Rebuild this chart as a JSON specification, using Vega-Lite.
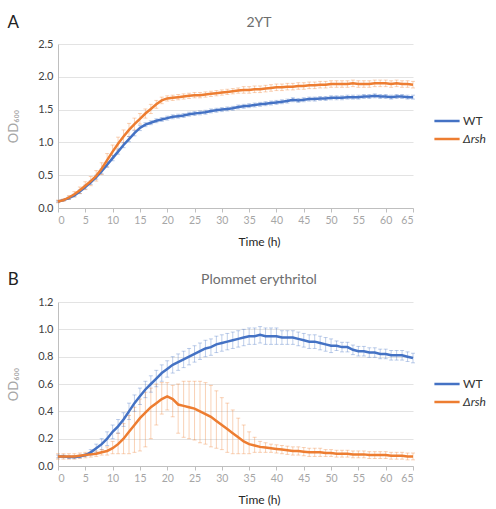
{
  "$schema": "https://vega.github.io/schema/vega-lite/v6.json",
  "background": "white",
  "padding": {"left": 7, "top": 14, "right": 4, "bottom": 4},
  "config": {
    "font": "Lato",
    "view": {"stroke": null},
    "concat": {"spacing": 23},
    "axisX": {
      "grid": false, "domainColor": "#bfbfbf", "tickColor": "#bfbfbf", "tickSize": 4, "labelOverlap": false,
      "labelColor": "#a6a6a6", "labelFontSize": 10.5, "labelPadding": 3,
      "titleColor": "#262626", "titleFontSize": 12, "titleFontWeight": "normal", "titlePadding": 11, "titleX": 201
    },
    "axisY": {
      "grid": true, "gridColor": "#e3e3e3", "ticks": false, "domainColor": "#bfbfbf", "labelOverlap": false,
      "labelColor": "#404040", "labelFontSize": 11, "labelPadding": 5,
      "titleColor": "#a6a6a6", "titleFontSize": 13, "titleFontWeight": "normal", "titlePadding": 17
    },
    "legend": {
      "orient": "none", "legendX": 377, "title": null,
      "symbolType": "M-1.2,0H1.2", "symbolSize": 441, "symbolStrokeWidth": 2.5, "symbolOpacity": 1,
      "labelFontSize": 12, "labelColor": "#333333", "rowPadding": 0, "labelOffset": 4
    }
  },
  "datasets": {
    "yt": [
      {"s":"WT","t":0,"v":0.10,"lo":0.09,"hi":0.11},{"s":"WT","t":1,"v":0.12,"lo":0.11,"hi":0.13},{"s":"WT","t":2,"v":0.15,"lo":0.13,"hi":0.17},{"s":"WT","t":3,"v":0.19,"lo":0.17,"hi":0.21},{"s":"WT","t":4,"v":0.25,"lo":0.22,"hi":0.28},{"s":"WT","t":5,"v":0.32,"lo":0.29,"hi":0.35},{"s":"WT","t":6,"v":0.39,"lo":0.36,"hi":0.42},{"s":"WT","t":7,"v":0.47,"lo":0.44,"hi":0.50},{"s":"WT","t":8,"v":0.56,"lo":0.52,"hi":0.60},{"s":"WT","t":9,"v":0.66,"lo":0.62,"hi":0.70},
      {"s":"WT","t":10,"v":0.76,"lo":0.72,"hi":0.80},{"s":"WT","t":11,"v":0.86,"lo":0.82,"hi":0.90},{"s":"WT","t":12,"v":0.96,"lo":0.92,"hi":1.00},{"s":"WT","t":13,"v":1.05,"lo":1.01,"hi":1.09},{"s":"WT","t":14,"v":1.14,"lo":1.10,"hi":1.18},{"s":"WT","t":15,"v":1.22,"lo":1.18,"hi":1.26},{"s":"WT","t":16,"v":1.27,"lo":1.24,"hi":1.30},{"s":"WT","t":17,"v":1.30,"lo":1.27,"hi":1.33},{"s":"WT","t":18,"v":1.33,"lo":1.30,"hi":1.36},{"s":"WT","t":19,"v":1.35,"lo":1.32,"hi":1.38},
      {"s":"WT","t":20,"v":1.37,"lo":1.34,"hi":1.40},{"s":"WT","t":21,"v":1.39,"lo":1.36,"hi":1.42},{"s":"WT","t":22,"v":1.40,"lo":1.37,"hi":1.43},{"s":"WT","t":23,"v":1.41,"lo":1.38,"hi":1.44},{"s":"WT","t":24,"v":1.43,"lo":1.40,"hi":1.46},{"s":"WT","t":25,"v":1.44,"lo":1.41,"hi":1.47},{"s":"WT","t":26,"v":1.45,"lo":1.42,"hi":1.48},{"s":"WT","t":27,"v":1.46,"lo":1.43,"hi":1.49},{"s":"WT","t":28,"v":1.48,"lo":1.45,"hi":1.51},{"s":"WT","t":29,"v":1.49,"lo":1.46,"hi":1.52},
      {"s":"WT","t":30,"v":1.50,"lo":1.47,"hi":1.53},{"s":"WT","t":31,"v":1.51,"lo":1.48,"hi":1.54},{"s":"WT","t":32,"v":1.52,"lo":1.49,"hi":1.55},{"s":"WT","t":33,"v":1.54,"lo":1.51,"hi":1.57},{"s":"WT","t":34,"v":1.55,"lo":1.52,"hi":1.58},{"s":"WT","t":35,"v":1.56,"lo":1.53,"hi":1.59},{"s":"WT","t":36,"v":1.57,"lo":1.54,"hi":1.60},{"s":"WT","t":37,"v":1.58,"lo":1.55,"hi":1.61},{"s":"WT","t":38,"v":1.59,"lo":1.56,"hi":1.62},{"s":"WT","t":39,"v":1.60,"lo":1.57,"hi":1.63},
      {"s":"WT","t":40,"v":1.61,"lo":1.58,"hi":1.64},{"s":"WT","t":41,"v":1.62,"lo":1.59,"hi":1.65},{"s":"WT","t":42,"v":1.63,"lo":1.60,"hi":1.66},{"s":"WT","t":43,"v":1.65,"lo":1.62,"hi":1.68},{"s":"WT","t":44,"v":1.64,"lo":1.61,"hi":1.67},{"s":"WT","t":45,"v":1.65,"lo":1.62,"hi":1.68},{"s":"WT","t":46,"v":1.66,"lo":1.63,"hi":1.69},{"s":"WT","t":47,"v":1.66,"lo":1.63,"hi":1.69},{"s":"WT","t":48,"v":1.67,"lo":1.64,"hi":1.70},{"s":"WT","t":49,"v":1.67,"lo":1.64,"hi":1.70},
      {"s":"WT","t":50,"v":1.68,"lo":1.65,"hi":1.71},{"s":"WT","t":51,"v":1.68,"lo":1.65,"hi":1.71},{"s":"WT","t":52,"v":1.68,"lo":1.65,"hi":1.71},{"s":"WT","t":53,"v":1.69,"lo":1.66,"hi":1.72},{"s":"WT","t":54,"v":1.69,"lo":1.66,"hi":1.72},{"s":"WT","t":55,"v":1.69,"lo":1.66,"hi":1.72},{"s":"WT","t":56,"v":1.70,"lo":1.67,"hi":1.73},{"s":"WT","t":57,"v":1.70,"lo":1.67,"hi":1.73},{"s":"WT","t":58,"v":1.71,"lo":1.68,"hi":1.74},{"s":"WT","t":59,"v":1.70,"lo":1.67,"hi":1.73},
      {"s":"WT","t":60,"v":1.70,"lo":1.67,"hi":1.73},{"s":"WT","t":61,"v":1.69,"lo":1.66,"hi":1.72},{"s":"WT","t":62,"v":1.70,"lo":1.67,"hi":1.73},{"s":"WT","t":63,"v":1.70,"lo":1.67,"hi":1.73},{"s":"WT","t":64,"v":1.69,"lo":1.66,"hi":1.72},{"s":"WT","t":65,"v":1.69,"lo":1.66,"hi":1.72},
      {"s":"Δrsh","t":0,"v":0.10,"lo":0.08,"hi":0.12},{"s":"Δrsh","t":1,"v":0.12,"lo":0.10,"hi":0.14},{"s":"Δrsh","t":2,"v":0.16,"lo":0.13,"hi":0.19},{"s":"Δrsh","t":3,"v":0.21,"lo":0.17,"hi":0.25},{"s":"Δrsh","t":4,"v":0.27,"lo":0.22,"hi":0.32},{"s":"Δrsh","t":5,"v":0.34,"lo":0.28,"hi":0.40},{"s":"Δrsh","t":6,"v":0.41,"lo":0.34,"hi":0.48},{"s":"Δrsh","t":7,"v":0.49,"lo":0.41,"hi":0.57},{"s":"Δrsh","t":8,"v":0.60,"lo":0.51,"hi":0.69},{"s":"Δrsh","t":9,"v":0.73,"lo":0.63,"hi":0.83},
      {"s":"Δrsh","t":10,"v":0.86,"lo":0.76,"hi":0.96},{"s":"Δrsh","t":11,"v":0.98,"lo":0.88,"hi":1.08},{"s":"Δrsh","t":12,"v":1.09,"lo":0.99,"hi":1.19},{"s":"Δrsh","t":13,"v":1.19,"lo":1.09,"hi":1.29},{"s":"Δrsh","t":14,"v":1.28,"lo":1.19,"hi":1.37},{"s":"Δrsh","t":15,"v":1.36,"lo":1.28,"hi":1.44},{"s":"Δrsh","t":16,"v":1.44,"lo":1.37,"hi":1.51},{"s":"Δrsh","t":17,"v":1.51,"lo":1.44,"hi":1.58},{"s":"Δrsh","t":18,"v":1.58,"lo":1.52,"hi":1.64},{"s":"Δrsh","t":19,"v":1.64,"lo":1.59,"hi":1.69},
      {"s":"Δrsh","t":20,"v":1.67,"lo":1.63,"hi":1.71},{"s":"Δrsh","t":21,"v":1.68,"lo":1.64,"hi":1.72},{"s":"Δrsh","t":22,"v":1.69,"lo":1.65,"hi":1.73},{"s":"Δrsh","t":23,"v":1.70,"lo":1.66,"hi":1.74},{"s":"Δrsh","t":24,"v":1.71,"lo":1.67,"hi":1.75},{"s":"Δrsh","t":25,"v":1.72,"lo":1.68,"hi":1.76},{"s":"Δrsh","t":26,"v":1.72,"lo":1.68,"hi":1.76},{"s":"Δrsh","t":27,"v":1.73,"lo":1.69,"hi":1.77},{"s":"Δrsh","t":28,"v":1.74,"lo":1.70,"hi":1.78},{"s":"Δrsh","t":29,"v":1.75,"lo":1.71,"hi":1.79},
      {"s":"Δrsh","t":30,"v":1.76,"lo":1.72,"hi":1.80},{"s":"Δrsh","t":31,"v":1.77,"lo":1.73,"hi":1.81},{"s":"Δrsh","t":32,"v":1.78,"lo":1.74,"hi":1.82},{"s":"Δrsh","t":33,"v":1.79,"lo":1.75,"hi":1.83},{"s":"Δrsh","t":34,"v":1.80,"lo":1.75,"hi":1.85},{"s":"Δrsh","t":35,"v":1.80,"lo":1.75,"hi":1.85},{"s":"Δrsh","t":36,"v":1.81,"lo":1.76,"hi":1.86},{"s":"Δrsh","t":37,"v":1.81,"lo":1.76,"hi":1.86},{"s":"Δrsh","t":38,"v":1.82,"lo":1.77,"hi":1.87},{"s":"Δrsh","t":39,"v":1.83,"lo":1.78,"hi":1.88},
      {"s":"Δrsh","t":40,"v":1.84,"lo":1.79,"hi":1.89},{"s":"Δrsh","t":41,"v":1.84,"lo":1.79,"hi":1.89},{"s":"Δrsh","t":42,"v":1.85,"lo":1.80,"hi":1.90},{"s":"Δrsh","t":43,"v":1.85,"lo":1.80,"hi":1.90},{"s":"Δrsh","t":44,"v":1.86,"lo":1.81,"hi":1.91},{"s":"Δrsh","t":45,"v":1.86,"lo":1.81,"hi":1.91},{"s":"Δrsh","t":46,"v":1.87,"lo":1.82,"hi":1.92},{"s":"Δrsh","t":47,"v":1.87,"lo":1.82,"hi":1.92},{"s":"Δrsh","t":48,"v":1.88,"lo":1.83,"hi":1.93},{"s":"Δrsh","t":49,"v":1.88,"lo":1.83,"hi":1.93},
      {"s":"Δrsh","t":50,"v":1.89,"lo":1.84,"hi":1.94},{"s":"Δrsh","t":51,"v":1.89,"lo":1.84,"hi":1.94},{"s":"Δrsh","t":52,"v":1.89,"lo":1.84,"hi":1.94},{"s":"Δrsh","t":53,"v":1.89,"lo":1.84,"hi":1.94},{"s":"Δrsh","t":54,"v":1.90,"lo":1.85,"hi":1.95},{"s":"Δrsh","t":55,"v":1.89,"lo":1.84,"hi":1.94},{"s":"Δrsh","t":56,"v":1.89,"lo":1.84,"hi":1.94},{"s":"Δrsh","t":57,"v":1.89,"lo":1.84,"hi":1.94},{"s":"Δrsh","t":58,"v":1.90,"lo":1.85,"hi":1.95},{"s":"Δrsh","t":59,"v":1.90,"lo":1.85,"hi":1.95},
      {"s":"Δrsh","t":60,"v":1.90,"lo":1.85,"hi":1.95},{"s":"Δrsh","t":61,"v":1.89,"lo":1.84,"hi":1.94},{"s":"Δrsh","t":62,"v":1.90,"lo":1.85,"hi":1.95},{"s":"Δrsh","t":63,"v":1.89,"lo":1.84,"hi":1.94},{"s":"Δrsh","t":64,"v":1.89,"lo":1.84,"hi":1.94},{"s":"Δrsh","t":65,"v":1.88,"lo":1.83,"hi":1.93}
    ],
    "ery": [
      {"s":"WT","t":0,"v":0.07,"lo":0.06,"hi":0.08},{"s":"WT","t":1,"v":0.07,"lo":0.06,"hi":0.08},{"s":"WT","t":2,"v":0.065,"lo":0.055,"hi":0.075},{"s":"WT","t":3,"v":0.065,"lo":0.055,"hi":0.075},{"s":"WT","t":4,"v":0.07,"lo":0.06,"hi":0.08},{"s":"WT","t":5,"v":0.08,"lo":0.07,"hi":0.09},{"s":"WT","t":6,"v":0.10,"lo":0.08,"hi":0.12},{"s":"WT","t":7,"v":0.13,"lo":0.10,"hi":0.16},{"s":"WT","t":8,"v":0.16,"lo":0.12,"hi":0.20},{"s":"WT","t":9,"v":0.20,"lo":0.15,"hi":0.25},
      {"s":"WT","t":10,"v":0.25,"lo":0.20,"hi":0.30},{"s":"WT","t":11,"v":0.29,"lo":0.24,"hi":0.34},{"s":"WT","t":12,"v":0.34,"lo":0.29,"hi":0.39},{"s":"WT","t":13,"v":0.40,"lo":0.34,"hi":0.46},{"s":"WT","t":14,"v":0.46,"lo":0.40,"hi":0.52},{"s":"WT","t":15,"v":0.51,"lo":0.45,"hi":0.57},{"s":"WT","t":16,"v":0.56,"lo":0.50,"hi":0.62},{"s":"WT","t":17,"v":0.60,"lo":0.54,"hi":0.66},{"s":"WT","t":18,"v":0.64,"lo":0.58,"hi":0.70},{"s":"WT","t":19,"v":0.68,"lo":0.62,"hi":0.74},
      {"s":"WT","t":20,"v":0.71,"lo":0.65,"hi":0.77},{"s":"WT","t":21,"v":0.74,"lo":0.68,"hi":0.80},{"s":"WT","t":22,"v":0.76,"lo":0.70,"hi":0.82},{"s":"WT","t":23,"v":0.78,"lo":0.72,"hi":0.84},{"s":"WT","t":24,"v":0.80,"lo":0.74,"hi":0.86},{"s":"WT","t":25,"v":0.82,"lo":0.76,"hi":0.88},{"s":"WT","t":26,"v":0.84,"lo":0.78,"hi":0.90},{"s":"WT","t":27,"v":0.86,"lo":0.80,"hi":0.92},{"s":"WT","t":28,"v":0.87,"lo":0.81,"hi":0.93},{"s":"WT","t":29,"v":0.89,"lo":0.83,"hi":0.95},
      {"s":"WT","t":30,"v":0.90,"lo":0.84,"hi":0.96},{"s":"WT","t":31,"v":0.91,"lo":0.85,"hi":0.97},{"s":"WT","t":32,"v":0.92,"lo":0.86,"hi":0.98},{"s":"WT","t":33,"v":0.93,"lo":0.87,"hi":0.99},{"s":"WT","t":34,"v":0.94,"lo":0.88,"hi":1.00},{"s":"WT","t":35,"v":0.95,"lo":0.89,"hi":1.01},{"s":"WT","t":36,"v":0.95,"lo":0.89,"hi":1.01},{"s":"WT","t":37,"v":0.96,"lo":0.90,"hi":1.02},{"s":"WT","t":38,"v":0.95,"lo":0.89,"hi":1.01},{"s":"WT","t":39,"v":0.95,"lo":0.89,"hi":1.01},
      {"s":"WT","t":40,"v":0.95,"lo":0.89,"hi":1.01},{"s":"WT","t":41,"v":0.94,"lo":0.89,"hi":0.99},{"s":"WT","t":42,"v":0.94,"lo":0.89,"hi":0.99},{"s":"WT","t":43,"v":0.94,"lo":0.89,"hi":0.99},{"s":"WT","t":44,"v":0.93,"lo":0.88,"hi":0.98},{"s":"WT","t":45,"v":0.92,"lo":0.87,"hi":0.97},{"s":"WT","t":46,"v":0.91,"lo":0.86,"hi":0.96},{"s":"WT","t":47,"v":0.91,"lo":0.86,"hi":0.96},{"s":"WT","t":48,"v":0.90,"lo":0.85,"hi":0.95},{"s":"WT","t":49,"v":0.89,"lo":0.84,"hi":0.94},
      {"s":"WT","t":50,"v":0.88,"lo":0.83,"hi":0.93},{"s":"WT","t":51,"v":0.88,"lo":0.845,"hi":0.915},{"s":"WT","t":52,"v":0.87,"lo":0.835,"hi":0.905},{"s":"WT","t":53,"v":0.87,"lo":0.835,"hi":0.905},{"s":"WT","t":54,"v":0.85,"lo":0.815,"hi":0.885},{"s":"WT","t":55,"v":0.84,"lo":0.805,"hi":0.875},{"s":"WT","t":56,"v":0.84,"lo":0.805,"hi":0.875},{"s":"WT","t":57,"v":0.83,"lo":0.795,"hi":0.865},{"s":"WT","t":58,"v":0.83,"lo":0.795,"hi":0.865},{"s":"WT","t":59,"v":0.82,"lo":0.785,"hi":0.855},
      {"s":"WT","t":60,"v":0.82,"lo":0.785,"hi":0.855},{"s":"WT","t":61,"v":0.81,"lo":0.775,"hi":0.845},{"s":"WT","t":62,"v":0.81,"lo":0.775,"hi":0.845},{"s":"WT","t":63,"v":0.81,"lo":0.775,"hi":0.845},{"s":"WT","t":64,"v":0.80,"lo":0.765,"hi":0.835},{"s":"WT","t":65,"v":0.79,"lo":0.755,"hi":0.825},
      {"s":"Δrsh","t":0,"v":0.07,"lo":0.05,"hi":0.09},{"s":"Δrsh","t":1,"v":0.07,"lo":0.05,"hi":0.09},{"s":"Δrsh","t":2,"v":0.07,"lo":0.05,"hi":0.09},{"s":"Δrsh","t":3,"v":0.07,"lo":0.05,"hi":0.09},{"s":"Δrsh","t":4,"v":0.075,"lo":0.055,"hi":0.095},{"s":"Δrsh","t":5,"v":0.08,"lo":0.06,"hi":0.10},{"s":"Δrsh","t":6,"v":0.085,"lo":0.065,"hi":0.105},{"s":"Δrsh","t":7,"v":0.09,"lo":0.07,"hi":0.11},{"s":"Δrsh","t":8,"v":0.10,"lo":0.08,"hi":0.12},{"s":"Δrsh","t":9,"v":0.11,"lo":0.08,"hi":0.14},
      {"s":"Δrsh","t":10,"v":0.13,"lo":0.09,"hi":0.18},{"s":"Δrsh","t":11,"v":0.16,"lo":0.09,"hi":0.24},{"s":"Δrsh","t":12,"v":0.20,"lo":0.09,"hi":0.31},{"s":"Δrsh","t":13,"v":0.25,"lo":0.09,"hi":0.37},{"s":"Δrsh","t":14,"v":0.30,"lo":0.10,"hi":0.43},{"s":"Δrsh","t":15,"v":0.35,"lo":0.11,"hi":0.49},{"s":"Δrsh","t":16,"v":0.39,"lo":0.14,"hi":0.54},{"s":"Δrsh","t":17,"v":0.43,"lo":0.20,"hi":0.57},{"s":"Δrsh","t":18,"v":0.46,"lo":0.30,"hi":0.60},{"s":"Δrsh","t":19,"v":0.49,"lo":0.38,"hi":0.61},
      {"s":"Δrsh","t":20,"v":0.51,"lo":0.41,"hi":0.61},{"s":"Δrsh","t":21,"v":0.49,"lo":0.36,"hi":0.59},{"s":"Δrsh","t":22,"v":0.45,"lo":0.24,"hi":0.60},{"s":"Δrsh","t":23,"v":0.44,"lo":0.21,"hi":0.62},{"s":"Δrsh","t":24,"v":0.43,"lo":0.20,"hi":0.62},{"s":"Δrsh","t":25,"v":0.42,"lo":0.19,"hi":0.62},{"s":"Δrsh","t":26,"v":0.40,"lo":0.17,"hi":0.62},{"s":"Δrsh","t":27,"v":0.38,"lo":0.16,"hi":0.61},{"s":"Δrsh","t":28,"v":0.36,"lo":0.14,"hi":0.59},{"s":"Δrsh","t":29,"v":0.33,"lo":0.13,"hi":0.55},
      {"s":"Δrsh","t":30,"v":0.30,"lo":0.12,"hi":0.50},{"s":"Δrsh","t":31,"v":0.27,"lo":0.10,"hi":0.46},{"s":"Δrsh","t":32,"v":0.24,"lo":0.09,"hi":0.41},{"s":"Δrsh","t":33,"v":0.21,"lo":0.09,"hi":0.35},{"s":"Δrsh","t":34,"v":0.18,"lo":0.09,"hi":0.30},{"s":"Δrsh","t":35,"v":0.16,"lo":0.09,"hi":0.25},{"s":"Δrsh","t":36,"v":0.15,"lo":0.10,"hi":0.21},{"s":"Δrsh","t":37,"v":0.14,"lo":0.10,"hi":0.18},{"s":"Δrsh","t":38,"v":0.135,"lo":0.10,"hi":0.17},{"s":"Δrsh","t":39,"v":0.13,"lo":0.10,"hi":0.16},
      {"s":"Δrsh","t":40,"v":0.125,"lo":0.095,"hi":0.155},{"s":"Δrsh","t":41,"v":0.12,"lo":0.09,"hi":0.15},{"s":"Δrsh","t":42,"v":0.115,"lo":0.085,"hi":0.145},{"s":"Δrsh","t":43,"v":0.11,"lo":0.08,"hi":0.14},{"s":"Δrsh","t":44,"v":0.11,"lo":0.08,"hi":0.14},{"s":"Δrsh","t":45,"v":0.105,"lo":0.075,"hi":0.135},{"s":"Δrsh","t":46,"v":0.10,"lo":0.07,"hi":0.13},{"s":"Δrsh","t":47,"v":0.10,"lo":0.07,"hi":0.13},{"s":"Δrsh","t":48,"v":0.10,"lo":0.07,"hi":0.13},{"s":"Δrsh","t":49,"v":0.095,"lo":0.07,"hi":0.12},
      {"s":"Δrsh","t":50,"v":0.095,"lo":0.07,"hi":0.12},{"s":"Δrsh","t":51,"v":0.09,"lo":0.065,"hi":0.115},{"s":"Δrsh","t":52,"v":0.09,"lo":0.065,"hi":0.115},{"s":"Δrsh","t":53,"v":0.09,"lo":0.065,"hi":0.115},{"s":"Δrsh","t":54,"v":0.085,"lo":0.06,"hi":0.11},{"s":"Δrsh","t":55,"v":0.085,"lo":0.06,"hi":0.11},{"s":"Δrsh","t":56,"v":0.085,"lo":0.06,"hi":0.11},{"s":"Δrsh","t":57,"v":0.08,"lo":0.055,"hi":0.105},{"s":"Δrsh","t":58,"v":0.08,"lo":0.055,"hi":0.105},{"s":"Δrsh","t":59,"v":0.08,"lo":0.055,"hi":0.105},
      {"s":"Δrsh","t":60,"v":0.08,"lo":0.055,"hi":0.105},{"s":"Δrsh","t":61,"v":0.075,"lo":0.05,"hi":0.10},{"s":"Δrsh","t":62,"v":0.075,"lo":0.05,"hi":0.10},{"s":"Δrsh","t":63,"v":0.075,"lo":0.05,"hi":0.10},{"s":"Δrsh","t":64,"v":0.07,"lo":0.045,"hi":0.095},{"s":"Δrsh","t":65,"v":0.07,"lo":0.045,"hi":0.095}
    ]
  },
  "vconcat": [
    {
      "width": 355, "height": 164,
      "layer": [
        {
          "data": {"name": "yt"},
          "mark": {"type": "rule", "opacity": 0.35, "strokeWidth": 1},
          "encoding": {
            "x": {"field": "t", "type": "quantitative", "scale": {"domain": [0, 65], "nice": false}, "axis": {"title": "Time (h)", "values": [0,5,10,15,20,25,30,35,40,45,50,55,60,65], "labelOverlap": false}},
            "y": {"field": "lo", "type": "quantitative", "scale": {"domain": [0, 2.5], "nice": false}, "axis": {"title": "OD₆₀₀", "values": [0,0.5,1,1.5,2,2.5], "format": ".1f", "labelOverlap": false}},
            "y2": {"field": "hi"},
            "color": {"field": "s", "type": "nominal", "scale": {"domain": ["WT", "Δrsh"], "range": ["#4472C4", "#ED7D31"]}}
          }
        },
        {
          "data": {"name": "yt"},
          "mark": {"type": "tick", "orient": "horizontal", "size": 4, "thickness": 1, "opacity": 0.35},
          "encoding": {
            "x": {"field": "t", "type": "quantitative", "axis": {"title": "Time (h)", "values": [0,5,10,15,20,25,30,35,40,45,50,55,60,65], "labelOverlap": false}},
            "y": {"field": "lo", "type": "quantitative", "axis": {"title": "OD₆₀₀", "values": [0,0.5,1,1.5,2,2.5], "format": ".1f", "labelOverlap": false}},
            "color": {"field": "s", "type": "nominal"}
          }
        },
        {
          "data": {"name": "yt"},
          "mark": {"type": "tick", "orient": "horizontal", "size": 4, "thickness": 1, "opacity": 0.35},
          "encoding": {
            "x": {"field": "t", "type": "quantitative", "axis": {"title": "Time (h)", "values": [0,5,10,15,20,25,30,35,40,45,50,55,60,65], "labelOverlap": false}},
            "y": {"field": "hi", "type": "quantitative", "axis": {"title": "OD₆₀₀", "values": [0,0.5,1,1.5,2,2.5], "format": ".1f", "labelOverlap": false}},
            "color": {"field": "s", "type": "nominal"}
          }
        },
        {
          "data": {"name": "yt"},
          "mark": {"type": "line", "strokeWidth": 2.5},
          "encoding": {
            "x": {"field": "t", "type": "quantitative", "axis": {"title": "Time (h)", "values": [0,5,10,15,20,25,30,35,40,45,50,55,60,65], "labelOverlap": false}},
            "y": {"field": "v", "type": "quantitative", "axis": {"title": "OD₆₀₀", "values": [0,0.5,1,1.5,2,2.5], "format": ".1f", "labelOverlap": false}},
            "color": {"field": "s", "type": "nominal", "legend": {"legendY": 65, "encode": {"labels": {"update": {"fontStyle": {"signal": "datum.label == 'WT' ? 'normal' : 'italic'"}}}}}}
          }
        },
        {
          "data": {"values": [{"label": "A"}]},
          "mark": {"type": "text", "fontSize": 17, "align": "center", "baseline": "middle", "color": "#222222"},
          "encoding": {"text": {"field": "label"}, "x": {"datum": -8.2, "axis": {"title": "Time (h)", "values": [0,5,10,15,20,25,30,35,40,45,50,55,60,65], "labelOverlap": false}}, "y": {"datum": 2.82, "axis": {"title": "OD₆₀₀", "values": [0,0.5,1,1.5,2,2.5], "format": ".1f", "labelOverlap": false}}}
        },
        {
          "data": {"values": [{"label": "2YT"}]},
          "mark": {"type": "text", "fontSize": 14, "align": "center", "baseline": "middle", "color": "#6d6d6d"},
          "encoding": {"text": {"field": "label"}, "x": {"datum": 36.8, "axis": {"title": "Time (h)", "values": [0,5,10,15,20,25,30,35,40,45,50,55,60,65], "labelOverlap": false}}, "y": {"datum": 2.82, "axis": {"title": "OD₆₀₀", "values": [0,0.5,1,1.5,2,2.5], "format": ".1f", "labelOverlap": false}}}
        }
      ]
    },
    {
      "width": 355, "height": 164,
      "layer": [
        {
          "data": {"name": "ery"},
          "mark": {"type": "rule", "opacity": 0.35, "strokeWidth": 1},
          "encoding": {
            "x": {"field": "t", "type": "quantitative", "scale": {"domain": [0, 65], "nice": false}, "axis": {"title": "Time (h)", "values": [0,5,10,15,20,25,30,35,40,45,50,55,60,65], "labelOverlap": false}},
            "y": {"field": "lo", "type": "quantitative", "scale": {"domain": [0, 1.2], "nice": false}, "axis": {"title": "OD₆₀₀", "values": [0,0.2,0.4,0.6,0.8,1,1.2], "format": ".1f", "labelOverlap": false}},
            "y2": {"field": "hi"},
            "color": {"field": "s", "type": "nominal", "scale": {"domain": ["WT", "Δrsh"], "range": ["#4472C4", "#ED7D31"]}}
          }
        },
        {
          "data": {"name": "ery"},
          "mark": {"type": "tick", "orient": "horizontal", "size": 4, "thickness": 1, "opacity": 0.35},
          "encoding": {
            "x": {"field": "t", "type": "quantitative", "axis": {"title": "Time (h)", "values": [0,5,10,15,20,25,30,35,40,45,50,55,60,65], "labelOverlap": false}},
            "y": {"field": "lo", "type": "quantitative", "axis": {"title": "OD₆₀₀", "values": [0,0.2,0.4,0.6,0.8,1,1.2], "format": ".1f", "labelOverlap": false}},
            "color": {"field": "s", "type": "nominal"}
          }
        },
        {
          "data": {"name": "ery"},
          "mark": {"type": "tick", "orient": "horizontal", "size": 4, "thickness": 1, "opacity": 0.35},
          "encoding": {
            "x": {"field": "t", "type": "quantitative", "axis": {"title": "Time (h)", "values": [0,5,10,15,20,25,30,35,40,45,50,55,60,65], "labelOverlap": false}},
            "y": {"field": "hi", "type": "quantitative", "axis": {"title": "OD₆₀₀", "values": [0,0.2,0.4,0.6,0.8,1,1.2], "format": ".1f", "labelOverlap": false}},
            "color": {"field": "s", "type": "nominal"}
          }
        },
        {
          "data": {"name": "ery"},
          "mark": {"type": "line", "strokeWidth": 2.5},
          "encoding": {
            "x": {"field": "t", "type": "quantitative", "axis": {"title": "Time (h)", "values": [0,5,10,15,20,25,30,35,40,45,50,55,60,65], "labelOverlap": false}},
            "y": {"field": "v", "type": "quantitative", "axis": {"title": "OD₆₀₀", "values": [0,0.2,0.4,0.6,0.8,1,1.2], "format": ".1f", "labelOverlap": false}},
            "color": {"field": "s", "type": "nominal", "legend": {"legendY": 70, "encode": {"labels": {"update": {"fontStyle": {"signal": "datum.label == 'WT' ? 'normal' : 'italic'"}}}}}}
          }
        },
        {
          "data": {"values": [{"label": "B"}]},
          "mark": {"type": "text", "fontSize": 17, "align": "center", "baseline": "middle", "color": "#222222"},
          "encoding": {"text": {"field": "label"}, "x": {"datum": -8.2, "axis": {"title": "Time (h)", "values": [0,5,10,15,20,25,30,35,40,45,50,55,60,65], "labelOverlap": false}}, "y": {"datum": 1.36, "axis": {"title": "OD₆₀₀", "values": [0,0.2,0.4,0.6,0.8,1,1.2], "format": ".1f", "labelOverlap": false}}}
        },
        {
          "data": {"values": [{"label": "Plommet erythritol"}]},
          "mark": {"type": "text", "fontSize": 14, "align": "center", "baseline": "middle", "color": "#6d6d6d"},
          "encoding": {"text": {"field": "label"}, "x": {"datum": 36.8, "axis": {"title": "Time (h)", "values": [0,5,10,15,20,25,30,35,40,45,50,55,60,65], "labelOverlap": false}}, "y": {"datum": 1.36, "axis": {"title": "OD₆₀₀", "values": [0,0.2,0.4,0.6,0.8,1,1.2], "format": ".1f", "labelOverlap": false}}}
        }
      ]
    }
  ],
  "resolve": {"scale": {"color": "independent"}}
}
